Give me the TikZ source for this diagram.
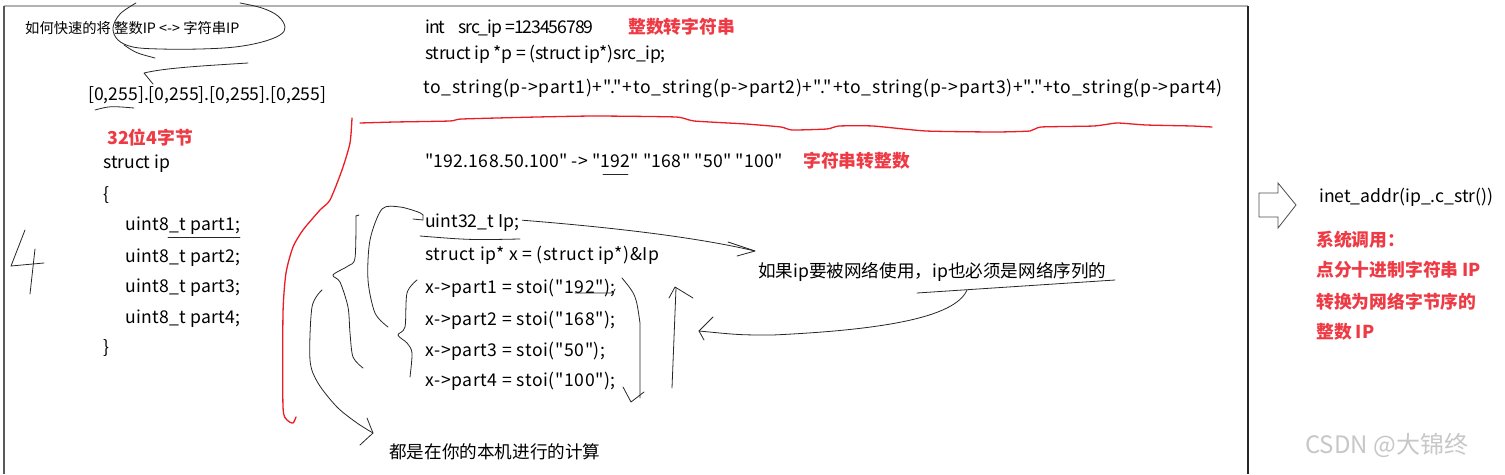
\documentclass[tikz,border=0pt]{standalone}
\usepackage{fontspec}
\setmainfont{Noto Sans CJK SC}[Ligatures=TeXOff]
\usepackage{xcolor}
\usepackage{tikz}
\usetikzlibrary{arrows.meta, calc, positioning}
\definecolor{notered}{RGB}{238,58,68}
\definecolor{penred}{RGB}{237,28,36}

\begin{document}
\begin{tikzpicture}[x=1pt, y=-1pt,
  code/.style={anchor=base west, inner sep=0pt, font=\fontsize{17.6}{20}\selectfont\addfontfeatures{LetterSpace=#1}},
  code/.default=0,
  small/.style={anchor=base west, inner sep=0pt, font=\fontsize{14.3}{16}\selectfont},
  note/.style={anchor=base west, inner sep=0pt, text=notered, font=\fontsize{17.8}{20}\selectfont\bfseries},
  pen/.style={line width=0.8pt, black!85, line cap=round, line join=round},
  redpen/.style={line width=1.3pt, penred, line cap=round, line join=round}
]
\useasboundingbox (0,0) rectangle (1505,474);
% --- frame ---
\draw[line width=1.5pt, black!30] (4,6) -- (1248,6);
\draw[line width=2pt, black!65] (4,6) -- (4,474);
\draw[line width=2pt, black!85] (1248,6) -- (1248,474);

% --- top left: title and range ---
\node[small] (title) at (25,33) {如何快速的将 整数IP <-> 字符串IP};
\node[code] (range) at (88,100) {[0,255].[0,255].[0,255].[0,255]};
\draw[pen] plot[smooth, tension=0.6] coordinates {(136,3) (120,14) (113,28) (118,40) (133,47) (160,49) (200,49) (235,47) (262,42) (280,35) (285,27) (278,16) (262,8) (240,3)};
\draw[pen] (124,45) .. controls (136,53) .. (155,58);
\coordinate (rangeTip) at (144,73);
\draw[pen] (248,63) .. controls (200,66) and (165,68) .. (rangeTip) -- (153,84);
\draw[pen] (95,110) .. controls (110,106) .. (134,108);

% --- top middle: integer to string ---
\node[code=-6] (int) at (425,33) {int\hspace{13pt}src\_ip =123456789};
\node[note] (itos) at (628,33) {整数转字符串};
\node[code=-1.7] (cast) at (425,59) {struct ip *p = (struct ip*)src\_ip;};
\node[code=4] (tostr) at (423,93) {to\_string(p->part1)+"."+to\_string(p->part2)+"."+to\_string(p->part3)+"."+to\_string(p->part4)};

% --- red dividers ---
\draw[redpen] plot[smooth, tension=0.4] coordinates {(352,118) (350,143) (342,170) (330,200) (320,210) (303,230) (293,247) (286,273) (283,313) (283,407) (287,420) (293,423) (296,417)};
\draw[redpen] plot[smooth, tension=0.3] coordinates {(360,123) (395,122) (450,121) (462,119) (537,117) (595,116) (676,117) (694,121) (746,124) (781,127) (792,130) (827,129) (839,126) (873,126) (926,131) (995,132) (1030,131) (1041,127) (1094,126) (1117,123) (1146,125) (1192,126) (1212,127)};

% --- left: struct ip ---
\node[note] (size) at (107,144) {32位4字节};
\node[code] (struct) at (103,168) {struct ip};
\node[code] (lbr) at (103,200) {\{};
\foreach \i/\y in {1/230, 2/262, 3/292, 4/323}
  \node[code=1.6] (part\i) at (125,\y) {uint8\_t part\i;};
\node[code] (rbr) at (103,353) {\}};
\draw[pen] (168,237) -- (240,237);
% handwritten 4
\draw[pen] (25,230) -- (11,266) -- (44,263);
\draw[pen] (35,249) -- (30,294);

% --- middle: string to integer ---
\node[code=1.4] (split) at (425,167) {"192.168.50.100" -> "192" "168" "50" "100"};
\node[note] (stoi) at (803,167) {字符串转整数};
\draw[pen] (603,174) -- (628,174);
\node[code] (u32) at (425,227) {uint32\_t Ip;};
\node[code=3.4] (xcast) at (425,260) {struct ip* x = (struct ip*)\&Ip};
\foreach \i/\v/\y in {1/192/293, 2/168/325, 3/50/356, 4/100/386}
  \node[code=3.5] (set\i) at (425,\y) {x->part\i\ = stoi("\v");};
\draw[pen] (575,293) -- (613,293) -- (615,289);
\draw[pen] (420,236) .. controls (470,240) .. (520,239);
\node[code] (net) at (758,277) {如果ip要被网络使用，ip也必须是网络序列的};
\node[code] (local) at (389,458) {都是在你的本机进行的计算};

% arrows and braces
\coordinate (netTip) at (755,251);
\draw[pen] (u32.east) ++(3,-2) .. controls (620,228) and (700,238) .. (netTip);
\draw[pen] (728,242) -- (netTip) -- (737,256);
\draw[pen] (917,293) -- (1115,280);
\coordinate (backTip) at (699,331);
\draw[pen] (967,290) .. controls (955,318) and (880,330) .. (773,335) .. controls (740,335) .. (backTip);
\draw[pen] (713,317) -- (backTip) -- (704,340);
\draw[pen] (672,388) -- (676,288);
\draw[pen] (669,298) -- (675,287) -- (693,298);
\draw[pen] (622,278) .. controls (636,295) .. (640,323) -- (640,398);
\draw[pen] (623,387) -- (631,402) -- (644,392);
\draw[pen] plot[smooth] coordinates {(388,327) (375,313) (368,280) (370,240) (382,209) (400,207) (418,212) (423,215)};
\draw[pen] (423,215) -- (423,220) -- (413,219);
\draw[pen] (359,215) -- (356,216);
\draw[pen] plot[smooth] coordinates {(356,216) (355,258) (348,266) (333,275) (340,282) (348,307) (350,333) (353,357) (363,368)};
\draw[pen] plot[smooth] coordinates {(417,280) (407,293) (405,327) (398,335) (407,343) (412,353) (410,377)};
\coordinate (localTip) at (373,433);
\draw[pen] plot[smooth] coordinates {(322,290) (312,307) (310,360) (318,383) (337,407) (357,423) (localTip)};
\draw[pen] (367,418) -- (localTip) -- (360,445);

% --- right: system call ---
\draw[line width=0.8pt, black!70] (1259,193) -- (1278,193) -- (1278,183) -- (1296,205) -- (1278,228) -- (1278,217) -- (1259,217) -- cycle;
\node[code] (inet) at (1319,202) {inet\_addr(ip\_.c\_str())};
\node[note] (sys1) at (1316,246) {系统调用：};
\node[note] (sys2) at (1316,276) {点分十进制字符串 IP};
\node[note] (sys3) at (1316,308) {转换为网络字节序的};
\node[note] (sys4) at (1316,338) {整数 IP};
\node[anchor=base west, inner sep=0pt, text=black!22, font=\fontsize{24}{26}\selectfont] (csdn) at (1305,453) {CSDN @大锦终};
\end{tikzpicture}
\end{document}
